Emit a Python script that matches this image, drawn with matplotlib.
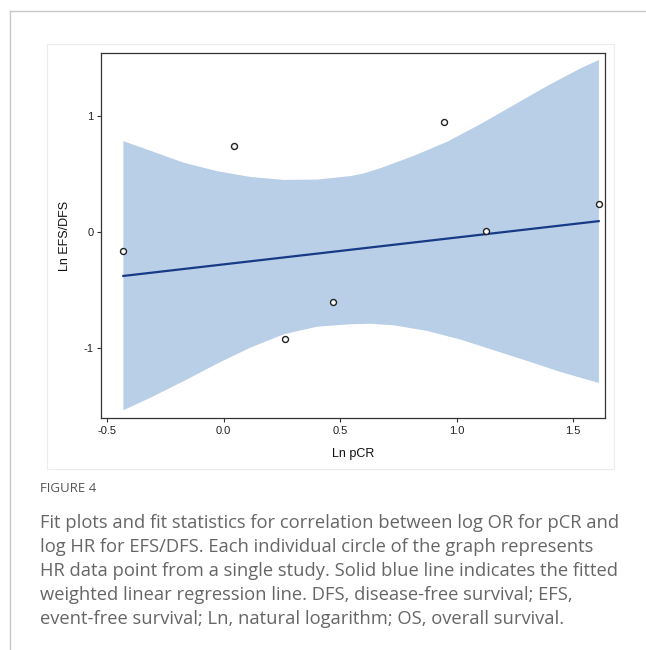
import numpy as np
import matplotlib
matplotlib.use("Agg")
import matplotlib.pyplot as plt
from matplotlib.patches import Rectangle
from matplotlib.lines import Line2D

plt.rcParams["axes.unicode_minus"] = False

# Estudios
ln_pcr = [-0.43, 0.045, 0.265, 0.47, 0.945, 1.125, 1.61]
ln_efs = [-0.165, 0.74, -0.92, -0.60, 0.95, 0.01, 0.245]

# Recta de regresion ponderada (extremos)
fit_x = [-0.43, 1.61]
fit_y = [-0.377, 0.095]

# Banda de confianza: borde superior e inferior
band_up_x = [-0.43, -0.313, -0.242, -0.17, -0.027, 0.116, 0.259, 0.402, 0.545,
             0.602, 0.674, 0.745, 0.817, 0.96, 1.103, 1.246, 1.389, 1.532, 1.611]
band_up_y = [0.784, 0.701, 0.649, 0.598, 0.525, 0.475, 0.45, 0.453, 0.483,
             0.506, 0.552, 0.604, 0.658, 0.779, 0.931, 1.095, 1.259, 1.411, 1.483]
band_lo_x = [-0.43, -0.313, -0.17, -0.027, 0.116, 0.259, 0.402,
             0.545, 0.631, 0.731, 0.874, 1.017, 1.16, 1.303, 1.446, 1.611]
band_lo_y = [-1.534, -1.425, -1.282, -1.132, -0.994, -0.879, -0.814,
             -0.793, -0.789, -0.802, -0.851, -0.925, -1.017, -1.109, -1.204, -1.299]

x_ticks = [-0.5, 0.0, 0.5, 1.0, 1.5]
y_ticks = [-1, 0, 1]

caption = ("Fit plots and fit statistics for correlation between log OR for pCR and\n"
           "log HR for EFS/DFS. Each individual circle of the graph represents\n"
           "HR data point from a single study. Solid blue line indicates the fitted\n"
           "weighted linear regression line. DFS, disease-free survival; EFS,\n"
           "event-free survival; Ln, natural logarithm; OS, overall survival.")

W, H = 646, 650
fig = plt.figure(figsize=(W / 100, H / 100), dpi=100)

# bordes de la pagina
fig.add_artist(Line2D([10 / W, 1], [1 - 11 / H, 1 - 11 / H], color="#c8c8c8", lw=1))
fig.add_artist(Line2D([10 / W, 10 / W], [0, 1 - 11 / H], color="#c8c8c8", lw=1))
# marco del grafico
fig.add_artist(Rectangle((47 / W, 1 - 469 / H), (614 - 47) / W, (469 - 44) / H,
                         fill=False, ec="#ececec", lw=0.8))

ax = fig.add_axes([101 / W, 1 - 418.3 / H, (605 - 101) / W, (418.3 - 53) / H])

poly_x = band_up_x + band_lo_x[::-1]
poly_y = band_up_y + band_lo_y[::-1]
ax.fill(poly_x, poly_y, color="#b9cfe7", lw=0, zorder=1)
ax.plot(fit_x, fit_y, color="#173a86", lw=1.6, zorder=2)
ax.plot(ln_pcr, ln_efs, ls="none", marker="o", markersize=4.3, mfc="white",
        mec="#222222", mew=1.0, zorder=3)

ax.set_xlim(-0.526, 1.637)
ax.set_ylim(-1.603, 1.543)
ax.set_xticks(x_ticks)
ax.set_xticklabels([f"{v:.1f}" for v in x_ticks])
ax.set_yticks(y_ticks)
ax.set_yticklabels([str(v) for v in y_ticks])

for s in ax.spines.values():
    s.set_color("#333333")
    s.set_linewidth(0.9)
ax.tick_params(direction="out", length=3, width=0.8, color="#333333",
               labelsize=8, labelcolor="#222222", pad=2.5)
for lab in ax.get_xticklabels() + ax.get_yticklabels():
    lab.set_family("Liberation Sans")

ax.set_xlabel("Ln pCR", fontsize=9, family="Liberation Sans", color="#111111", labelpad=9)
ax.set_ylabel("Ln EFS/DFS", fontsize=9, family="Liberation Sans", color="#111111", labelpad=9)

fig.text(40 / W, 1 - 489 / H, "FIGURE 4", fontsize=9.5, family="Open Sans",
         color="#555555", va="center", ha="left")
fig.text(40 / W, 1 - 514 / H, caption, fontsize=13.2, family="Open Sans",
         color="#666666", va="top", ha="left", linespacing=1.43)

fig.savefig("out.png", dpi=100)
